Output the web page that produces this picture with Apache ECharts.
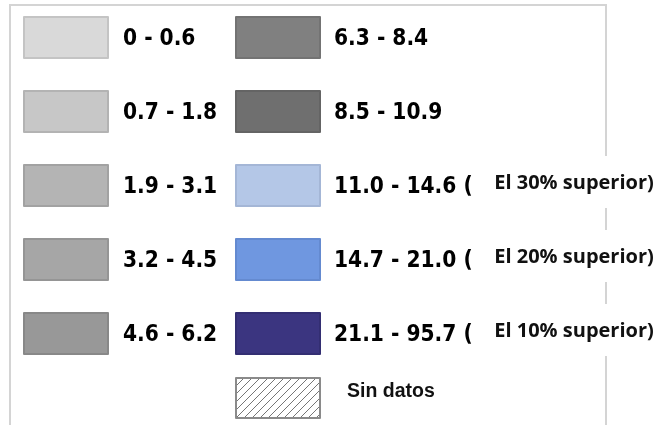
<!DOCTYPE html>
<html><head><meta charset="utf-8">
<script src="https://cdn.jsdelivr.net/npm/echarts@6/dist/echarts.min.js"></script>
<style>html,body{margin:0;padding:0;background:#fff}#chart{width:670px;height:425px}</style>
</head><body><div id="chart"></div>
<script>
// ---- data ----
const rangesCol1 = ['0 - 0.6', '0.7 - 1.8', '1.9 - 3.1', '3.2 - 4.5', '4.6 - 6.2'];
const rangesCol2 = ['6.3 - 8.4', '8.5 - 10.9', '11.0 - 14.6 (', '14.7 - 21.0 (', '21.1 - 95.7 ('];
const noDataLabel = 'Sin datos';
const topShareLabels = ['El 30% superior)', 'El 20% superior)', 'El 10% superior)'];
const topShareRows = [2, 3, 4];

// ---- styles ----
const fillCol1 = ['#d9d9d9', '#c7c7c7', '#b4b4b4', '#a6a6a6', '#989898'];
const fillCol2 = ['#808080', '#6f6f6f', '#b4c7e7', '#6f97e0', '#3b3580'];
const edgeCol1 = ['#c4c4c4', '#b3b3b3', '#a2a2a2', '#959595', '#888888'];
const edgeCol2 = ['#737373', '#646464', '#a4b6d6', '#648ad0', '#332e72'];

function hatch() {
  const c = document.createElement('canvas');
  c.width = 8; c.height = 8;
  const g = c.getContext('2d');
  g.fillStyle = '#ffffff'; g.fillRect(0, 0, 8, 8);
  g.strokeStyle = '#666666'; g.lineWidth = 0.9;
  g.beginPath();
  g.moveTo(0, 8); g.lineTo(8, 0);
  g.moveTo(-1, 1); g.lineTo(1, -1);
  g.moveTo(7, 9); g.lineTo(9, 7);
  g.stroke();
  return {image: c, repeat: 'repeat'};
}

const ROW_TOP = 16, ROW_PITCH = 74;
const rowTop = r => ROW_TOP + r * ROW_PITCH;

const pieData = [];
rangesCol1.forEach((n, i) => pieData.push({name: n, value: 1, itemStyle: {color: fillCol1[i], borderColor: edgeCol1[i], borderWidth: 1}}));
rangesCol2.forEach((n, i) => pieData.push({name: n, value: 1, itemStyle: {color: fillCol2[i], borderColor: edgeCol2[i], borderWidth: 1}}));
pieData.push({name: noDataLabel, value: 1, itemStyle: {color: hatch(), borderColor: '#8a8a8a', borderWidth: 1}});

const rangeFont = {fontFamily: "'DejaVu Sans Condensed', 'DejaVu Sans', sans-serif", fontWeight: 'bold', fontSize: 22.5, color: '#000'};
const baseLegend = {orient: 'vertical', padding: 0, itemWidth: 84, itemHeight: 41, itemGap: ROW_PITCH - 43, icon: 'rect', selectedMode: false,
  formatter: '{a|{name}}'};

const chart = echarts.init(document.getElementById('chart'), null, {renderer: 'canvas'});
chart.setOption({
  animation: false,
  backgroundColor: '#ffffff',
  legend: [
    Object.assign({}, baseLegend, {left: 23, top: ROW_TOP, data: rangesCol1,
      textStyle: Object.assign({padding: [0, 0, 0, 10], rich: {a: Object.assign({padding: [4, 0, 0, 0]}, rangeFont)}}, rangeFont)}),
    Object.assign({}, baseLegend, {left: 235, top: ROW_TOP, data: rangesCol2,
      textStyle: Object.assign({padding: [0, 0, 0, 9], rich: {a: Object.assign({padding: [4, 0, 0, 0]}, rangeFont)}}, rangeFont)}),
    Object.assign({}, baseLegend, {left: 235, top: 377, itemHeight: 40, data: [noDataLabel],
      textStyle: {fontFamily: "'Liberation Sans', Arial, sans-serif", fontWeight: 'bold', fontSize: 19.5, color: '#111', padding: [0, 0, 0, 22],
        rich: {a: {fontFamily: "'Liberation Sans', Arial, sans-serif", fontWeight: 'bold', fontSize: 19.5, color: '#111', padding: [0, 0, 12, 0]}}}})
  ],
  series: [{
    type: 'pie', radius: [0, 0], center: [-100, -100], silent: true,
    label: {show: false}, labelLine: {show: false}, data: pieData
  }],
  graphic: [
    {type: 'rect', z: 0, shape: {x: 10, y: 5, width: 596, height: 440}, style: {fill: 'none', stroke: '#d4d4d4', lineWidth: 2}}
  ].concat(topShareRows.map((r, k) => ({
    type: 'group', z: 10, children: [
      {type: 'rect', shape: {x: 474, y: rowTop(r) - 8, width: 196, height: 52}, style: {fill: '#ffffff'}},
      {type: 'text', x: 574, y: rowTop(r) + 19, style: {text: topShareLabels[k], font: "bold 20px 'Open Sans', sans-serif", fill: '#111',
        align: 'center', verticalAlign: 'middle', textAlign: 'center', textVerticalAlign: 'middle'}}
    ]
  })))
});
</script></body></html>
